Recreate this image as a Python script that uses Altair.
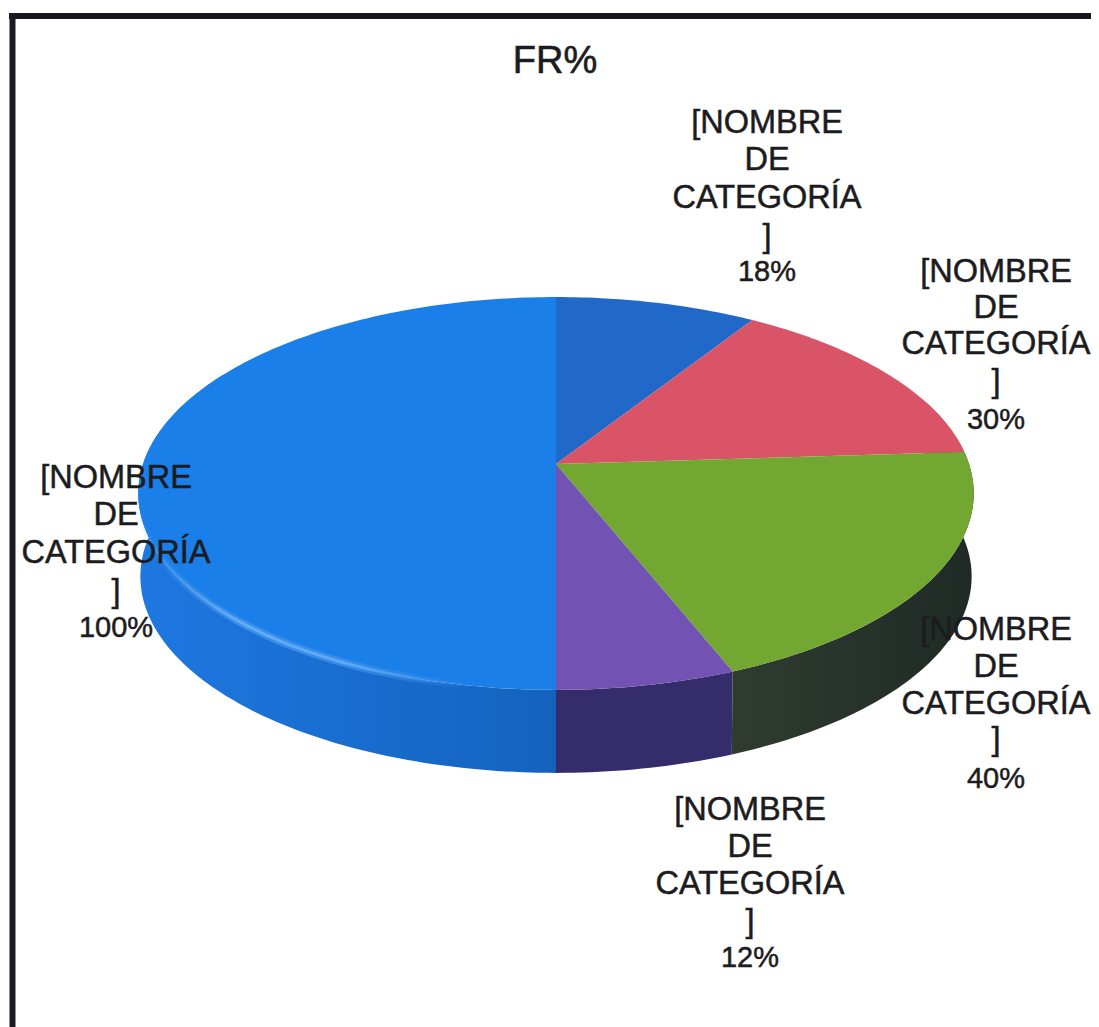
import math
import altair as alt
import pandas as pd

# ---- chart values ----
title_text = "FR%"
category_label = ["[NOMBRE", "DE", "CATEGORÍA", "]"]
slice_values = [18, 30, 40, 12, 100]          # clockwise from 12 o'clock
slice_colors = ["#2169C8", "#DA5468", "#72A832", "#7252B2", "#1A7FE8"]
side_start = ["#2169C8", "#A83C4C", "#1F2A26", "#352C6B", "#1462BE"]
side_end = ["#2169C8", "#A83C4C", "#303B30", "#352C6B", "#1E78E0"]

# ---- layout constants (page pixels) ----
CX, CY = 556, 464      # pie apex on the page
A, B, K = 413, 192, 0.15   # perspective tilt of the disc
DEPTH = 83
BASE_SHRINK = 0.995
label_x = [767, 996, 996, 750, 116]
label_y = [[123, 160, 198, 237, 272],
           [272, 308, 344, 382, 420],
           [630, 667, 704, 740, 779],
           [810, 847, 884, 922, 958],
           [478, 515, 553, 592, 628]]
FONT = "Liberation Sans"


def rim(theta_deg, base=False):
    t = math.radians(theta_deg)
    u, v = math.sin(t), math.cos(t)
    d = 1 + K * v
    x, y = CX + A * u / d, CY - B * v / d
    if base:
        x, y = CX + (x - CX) * BASE_SHRINK, y + DEPTH
    return x, y


def arc_points(t0, t1, base=False):
    n = max(2, int(abs(t1 - t0)) + 1)
    return [rim(t0 + (t1 - t0) * i / (n - 1), base) for i in range(n)]


total = sum(slice_values)
edges = [0]
for v in slice_values:
    edges.append(edges[-1] + v / total * 360)

x_scale = alt.Scale(domain=[8, 1091], range=[0, 1083], nice=False, zero=False)
y_scale = alt.Scale(domain=[8, 1027], range=[0, 1019], nice=False, zero=False)
NOAX = None


def poly(points, **mark):
    df = pd.DataFrame({"x": [p[0] for p in points], "y": [p[1] for p in points],
                       "i": list(range(len(points)))})
    return alt.Chart(df).mark_line(interpolate="linear", **mark).encode(
        x=alt.X("x:Q", scale=x_scale, axis=NOAX),
        y=alt.Y("y:Q", scale=y_scale, axis=NOAX),
        order=alt.Order("i:Q"),
    )


layers = []

# walls, drawn first so the top face covers their back parts
for k in [4, 3, 2, 1]:
    t0, t1 = edges[k], edges[k + 1]
    if k == 4:
        t1 = 300
    if k == 1:
        t0 = 70
    top = arc_points(t0, t1)
    bot = arc_points(t0, t1, base=True)
    grad = alt.Gradient(
        gradient="linear", x1=0, y1=0, x2=1, y2=0,
        stops=[alt.GradientStop(color=side_end[k], offset=0),
               alt.GradientStop(color=side_start[k], offset=1)],
    )
    layers.append(poly(top + bot[::-1], fill=grad, strokeWidth=0, stroke="transparent"))

# top face
for k, col in enumerate(slice_colors):
    pts = [(CX, CY)] + arc_points(edges[k], edges[k + 1])
    layers.append(poly(pts, fill=col, strokeWidth=0, stroke="transparent"))

# soft highlight along the blue rim, fading out at both ends
for width, rgb in [(8, "58,143,236"), (3, "98,172,245")]:
    layers.append(poly(
        arc_points(190, 268),
        stroke=alt.Gradient(
            gradient="linear", x1=0, y1=0, x2=1, y2=0,
            stops=[alt.GradientStop(color=f"rgba({rgb},0)", offset=0),
                   alt.GradientStop(color=f"rgba({rgb},1)", offset=0.3),
                   alt.GradientStop(color=f"rgba({rgb},0.9)", offset=0.6),
                   alt.GradientStop(color=f"rgba({rgb},0)", offset=1)],
        ),
        strokeWidth=width,
    ))

# frame
frame_t = pd.DataFrame({"x": [9], "xe": [1091], "y": [16]})
layers.append(alt.Chart(frame_t).mark_rule(color="#16161E", strokeWidth=6).encode(
    x=alt.X("x:Q", scale=x_scale, axis=NOAX),
    x2=alt.X2("xe:Q"), y=alt.Y("y:Q", scale=y_scale, axis=NOAX),
))
frame_l = pd.DataFrame({"x": [12.5], "y": [13], "ye": [1027]})
layers.append(alt.Chart(frame_l).mark_rule(color="#1A1A24", strokeWidth=6).encode(
    x=alt.X("x:Q", scale=x_scale, axis=NOAX),
    y=alt.Y("y:Q", scale=y_scale, axis=NOAX), y2=alt.Y2("ye:Q"),
))

# labels
rows = []
for k, v in enumerate(slice_values):
    for line, yy in zip(category_label + [f"{v}%"], label_y[k]):
        rows.append({"x": label_x[k], "y": yy, "t": line,
                     "s": 29 if line.endswith("%") else 32.5})
layers.append(alt.Chart(pd.DataFrame(rows)).mark_text(
    font=FONT, color="#1C1C20", align="center", baseline="middle",
    stroke="#1C1C20", strokeWidth=0.5,
).encode(
    x=alt.X("x:Q", scale=x_scale, axis=NOAX),
    y=alt.Y("y:Q", scale=y_scale, axis=NOAX),
    text="t:N",
    size=alt.Size("s:Q", scale=None),
))
layers.append(alt.Chart(pd.DataFrame({"x": [555], "y": [62], "t": [title_text]})).mark_text(
    font=FONT, fontSize=38, color="#1C1C20", align="center", baseline="middle",
    stroke="#1C1C20", strokeWidth=0.6,
).encode(
    x=alt.X("x:Q", scale=x_scale, axis=NOAX),
    y=alt.Y("y:Q", scale=y_scale, axis=NOAX),
    text="t:N",
))

chart = alt.layer(*layers).properties(
    width=1083, height=1019, padding=0, background="white",
    autosize=alt.AutoSizeParams(type="none"),
).configure_view(stroke=None)

chart.save("out.html", embed_options={"renderer": "svg", "actions": False})
